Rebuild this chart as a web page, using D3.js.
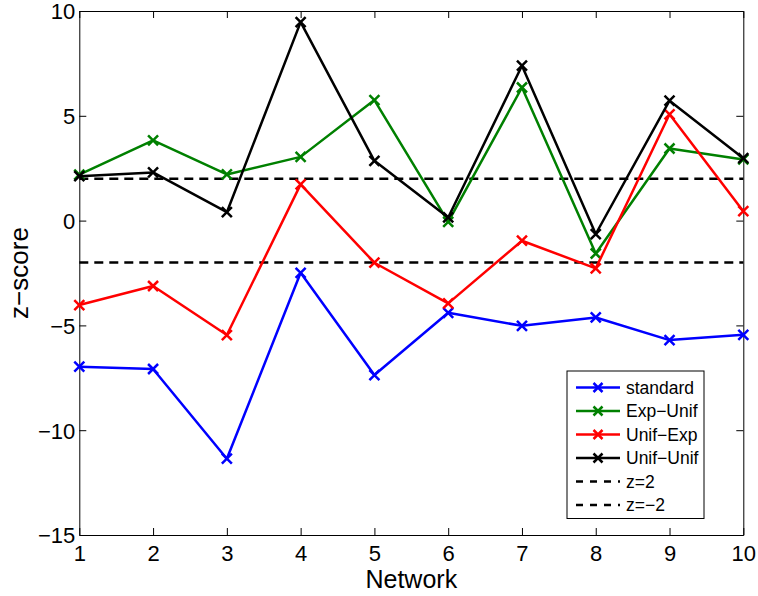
<!DOCTYPE html>
<html>
<head>
<meta charset="utf-8">
<script src="https://cdn.jsdelivr.net/npm/d3@7"></script>
<style>
  body { margin: 0; background: #fff; }
  svg text { font-family: "Liberation Sans", Arial, sans-serif; fill: #000; }
</style>
</head>
<body>
<div id="chart"></div>
<script>
// z-scores per network
const networks = [1, 2, 3, 4, 5, 6, 7, 8, 9, 10];
const standard = [-6.97, -7.08, -11.36, -2.49, -7.37, -4.4, -5.02, -4.62, -5.7, -5.45];
const expUnif = [2.19, 3.83, 2.2, 3.04, 5.75, -0.06, 6.35, -1.57, 3.44, 2.92];
const unifExp = [-4.03, -3.12, -5.46, 1.73, -2.01, -3.95, -0.96, -2.28, 5.07, 0.45];
const unifUnif = [2.12, 2.3, 0.4, 9.47, 2.85, 0.15, 7.39, -0.64, 5.72, 2.98];
const thresholds = [2, -2];
const yTicks = [-15, -10, -5, 0, 5, 10];

const series = [
  { name: 'standard', values: standard, color: '#0000ff' },
  { name: 'Exp\u2212Unif', values: expUnif, color: '#008000' },
  { name: 'Unif\u2212Exp', values: unifExp, color: '#ff0000' },
  { name: 'Unif\u2212Unif', values: unifUnif, color: '#000000' },
];

const width = 758, height = 596;
const margin = { top: 11, right: 14.7, bottom: 61, left: 79.3 };

const svg = d3.select('#chart').append('svg')
  .attr('width', width)
  .attr('height', height);

const x = d3.scaleLinear()
  .domain([1, 10])
  .range([margin.left, width - margin.right]);

const y = d3.scaleLinear()
  .domain([-15, 10])
  .range([height - margin.bottom, margin.top]);

const fmt = (d) => String(d).replace('-', '\u2212');

// axes (box with inward ticks on all four sides)
const tickLen = 7;
const axisStyle = (g) => {
  g.select('.domain').attr('stroke', '#000').attr('stroke-width', 1);
  g.selectAll('.tick line').attr('stroke', '#000').attr('stroke-width', 1);
};

svg.append('g')
  .attr('transform', `translate(0,${y(-15)})`)
  .call(d3.axisBottom(x).tickValues(networks).tickSizeInner(-tickLen).tickSizeOuter(0).tickPadding(10).tickFormat(fmt))
  .call(axisStyle)
  .call((g) => g.selectAll('text').attr('font-size', 22));

svg.append('g')
  .attr('transform', `translate(0,${y(10)})`)
  .call(d3.axisTop(x).tickValues(networks).tickSizeInner(-tickLen).tickSizeOuter(0).tickFormat(''))
  .call(axisStyle);

svg.append('g')
  .attr('transform', `translate(${x(1)},0)`)
  .call(d3.axisLeft(y).tickValues(yTicks).tickSizeInner(-tickLen).tickSizeOuter(0).tickPadding(4).tickFormat(fmt))
  .call(axisStyle)
  .call((g) => g.selectAll('text').attr('font-size', 22).attr('dy', '0.36em'));

svg.append('g')
  .attr('transform', `translate(${x(10)},0)`)
  .call(d3.axisRight(y).tickValues(yTicks).tickSizeInner(-tickLen).tickSizeOuter(0).tickFormat(''))
  .call(axisStyle);

// axis labels
svg.append('text')
  .attr('x', (x(1) + x(10)) / 2)
  .attr('y', 588)
  .attr('text-anchor', 'middle')
  .attr('font-size', 25)
  .text('Network');

svg.append('text')
  .attr('transform', `translate(28,${(y(-15) + y(10)) / 2}) rotate(-90)`)
  .attr('text-anchor', 'middle')
  .attr('font-size', 26)
  .text('z\u2212score');

// threshold lines
svg.append('g').selectAll('line')
  .data(thresholds)
  .join('line')
  .attr('x1', x(1)).attr('x2', x(10))
  .attr('y1', (d) => y(d)).attr('y2', (d) => y(d))
  .attr('stroke', '#000')
  .attr('stroke-width', 2.5)
  .attr('stroke-dasharray', '9,6');

// series
const line = d3.line()
  .x((d, i) => x(networks[i]))
  .y((d) => y(d));

const cross = (g, color, s) => {
  g.append('path')
    .attr('d', `M${-s},${-s}L${s},${s}M${-s},${s}L${s},${-s}`)
    .attr('stroke', color)
    .attr('stroke-width', 2.5)
    .attr('fill', 'none');
};

series.forEach((s) => {
  const g = svg.append('g');
  g.append('path')
    .datum(s.values)
    .attr('d', line)
    .attr('fill', 'none')
    .attr('stroke', s.color)
    .attr('stroke-width', 2.5)
    .attr('stroke-linejoin', 'round');
  g.selectAll('g.mark')
    .data(s.values)
    .join('g')
    .attr('class', 'mark')
    .attr('transform', (d, i) => `translate(${x(networks[i])},${y(d)})`)
    .each(function () { cross(d3.select(this), s.color, 5); });
});

// legend
const legend = svg.append('g');
legend.append('rect')
  .attr('x', 567).attr('y', 371)
  .attr('width', 137).attr('height', 147.5)
  .attr('fill', '#fff')
  .attr('stroke', '#000')
  .attr('stroke-width', 1);

const legendItems = series.map((s) => ({ name: s.name, color: s.color, dashed: false }))
  .concat(thresholds.map((t) => ({ name: 'z=' + fmt(t), color: '#000', dashed: true })));

legendItems.forEach((d, i) => {
  const cy = 387.5 + i * 23.5;
  const row = legend.append('g');
  row.append('line')
    .attr('x1', 576).attr('x2', 620)
    .attr('y1', cy).attr('y2', cy)
    .attr('stroke', d.color)
    .attr('stroke-width', 2.5)
    .attr('stroke-dasharray', d.dashed ? '7,7' : null);
  if (!d.dashed) {
    const m = row.append('g').attr('transform', `translate(598,${cy})`);
    cross(m, d.color, 4.5);
  }
  row.append('text')
    .attr('x', 626)
    .attr('y', cy)
    .attr('dy', '0.36em')
    .attr('font-size', 17.5)
    .text(d.name);
});
</script>
</body>
</html>
